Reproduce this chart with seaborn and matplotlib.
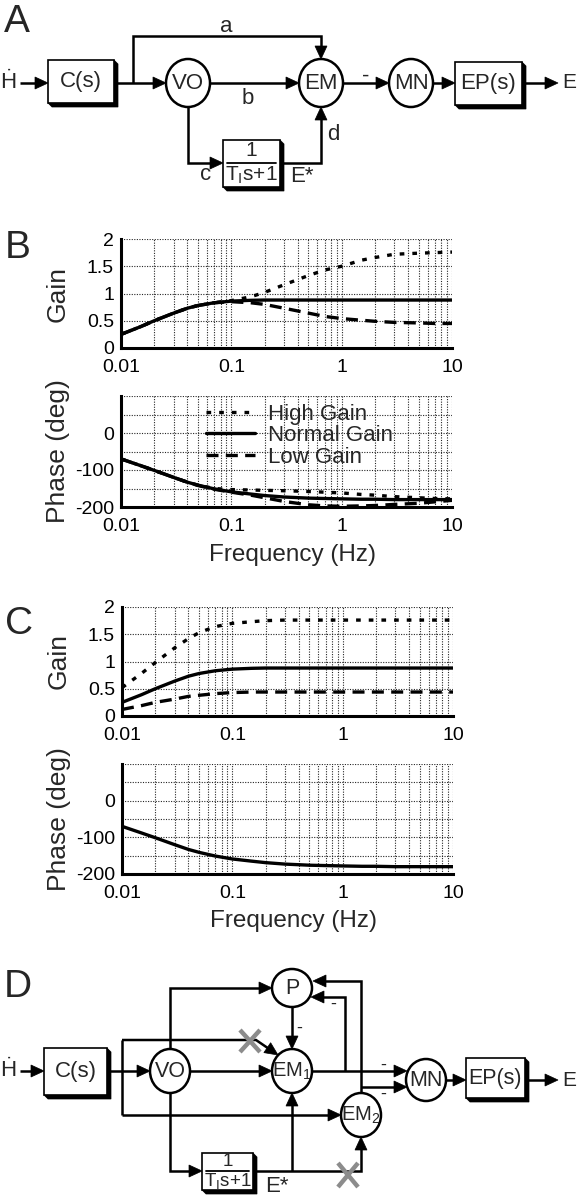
import numpy as np
import pandas as pd
import matplotlib
matplotlib.use("Agg")
import matplotlib.pyplot as plt
import seaborn as sns
from matplotlib.patches import Ellipse, Rectangle, Polygon
from matplotlib.ticker import LogLocator, NullFormatter, FixedLocator

# ---------------- data ----------------
conditions = ["High Gain", "Normal Gain", "Low Gain"]
freq = [0.01, 0.015, 0.02, 0.03, 0.04, 0.05, 0.07, 0.1, 0.15, 0.2, 0.3,
        0.5, 0.7, 1, 1.5, 2, 3, 5, 7, 10]

# Panel B
b_gain_high = [0.25, 0.39, 0.50, 0.64, 0.73, 0.78, 0.83, 0.87, 0.94, 1.02, 1.16,
               1.33, 1.43, 1.50, 1.61, 1.66, 1.72, 1.74, 1.75, 1.76]
b_gain_normal = [0.25, 0.39, 0.50, 0.64, 0.73, 0.78, 0.83, 0.86, 0.875, 0.88, 0.88,
                 0.88, 0.88, 0.88, 0.88, 0.88, 0.88, 0.88, 0.88, 0.88]
b_gain_low = [0.25, 0.39, 0.50, 0.64, 0.73, 0.78, 0.83, 0.85, 0.83, 0.80, 0.73,
              0.64, 0.58, 0.54, 0.51, 0.49, 0.47, 0.46, 0.45, 0.45]
b_phase_high = [-70, -88, -101, -120, -133, -141, -150, -153, -154, -155, -156,
                -158, -160, -162, -166, -168, -172, -175, -177, -178]
b_phase_normal = [-70, -88, -101, -120, -133, -141, -151, -159, -165, -169, -173,
                  -176, -177, -178, -179, -179, -180, -180, -180, -180]
b_phase_low = [-70, -88, -101, -120, -133, -142, -152, -160, -168, -175, -185,
               -194, -197, -198, -197, -196, -193, -190, -186, -182]

# Panel C
c_gain_high = [0.52, 0.78, 0.98, 1.25, 1.42, 1.53, 1.64, 1.70, 1.73, 1.75, 1.76,
               1.76, 1.76, 1.76, 1.76, 1.76, 1.76, 1.76, 1.76, 1.76]
c_gain_normal = [0.25, 0.39, 0.50, 0.64, 0.73, 0.78, 0.83, 0.86, 0.875, 0.88, 0.88,
                 0.88, 0.88, 0.88, 0.88, 0.88, 0.88, 0.88, 0.88, 0.88]
c_gain_low = [0.12, 0.19, 0.25, 0.31, 0.36, 0.38, 0.41, 0.43, 0.44, 0.44, 0.44,
              0.44, 0.44, 0.44, 0.44, 0.44, 0.44, 0.44, 0.44, 0.44]
c_phase_normal = [-70, -88, -101, -120, -133, -141, -151, -159, -165, -169, -173,
                  -176, -177, -178, -179, -179, -180, -180, -180, -180]

x_ticks = [0.01, 0.1, 1, 10]
x_ticklabels = ["0.01", "0.1", "1", "10"]
gain_ticks = [0, 0.5, 1, 1.5, 2]
gain_ticklabels = ["0", "0.5", "1", "1.5", "2"]
phase_ticks = [-200, -100, 0]
phase_ticklabels = ["-200", "-100", "0"]
phase_minor = [-150, -50, 50, 100]

# ---------------- style ----------------
sns.set_style("white")
plt.rcParams["font.family"] = ["Liberation Sans", "DejaVu Sans"]
plt.rcParams["mathtext.fontset"] = "custom"
plt.rcParams["mathtext.rm"] = "Liberation Sans"
plt.rcParams["mathtext.it"] = "Liberation Sans:italic"
plt.rcParams["mathtext.bf"] = "Liberation Sans:bold"

W, H = 577, 1199
fig = plt.figure(figsize=(W / 100, H / 100), dpi=100)
fig.patch.set_facecolor("white")

# overlay axes in pixel coordinates for the block diagrams
dg = fig.add_axes([0, 0, 1, 1])
dg.set_xlim(0, W)
dg.set_ylim(H, 0)
dg.axis("off")
dg.patch.set_alpha(0)

LW = 1.8
FS = 16
LETTER = 28


def seg(pts, color="k", lw=LW):
    xs, ys = zip(*pts)
    dg.plot(xs, ys, color=color, lw=lw, solid_joinstyle="miter",
            solid_capstyle="butt", zorder=2)


def arrow(pts, hl=13, hw=12):
    (x0, y0), (x1, y1) = pts[-2], pts[-1]
    d = np.array([x1 - x0, y1 - y0], float)
    d /= np.hypot(*d)
    nrm = np.array([-d[1], d[0]])
    tip = np.array([x1, y1], float)
    base = tip - d * hl
    seg(list(pts[:-1]) + [tuple(base + d * 1.5)])
    dg.add_patch(Polygon([tip, base + nrm * hw / 2, base - nrm * hw / 2],
                         closed=True, fc="k", ec="k", lw=0.5, zorder=3))


def node(cx, cy, rx, ry, label, fs=FS):
    dg.add_patch(Ellipse((cx, cy), 2 * rx, 2 * ry, fc="white", ec="k",
                         lw=LW, zorder=4))
    dg.text(cx, cy + 0.5, label, ha="center", va="center", fontsize=fs, zorder=5)


def box(x0, y0, x1, y1, label=None, s=4, fs=FS):
    dg.add_patch(Polygon([(x1, y0), (x1 + s, y0 + s), (x1 + s, y1 + s),
                          (x0 + s, y1 + s), (x0, y1)], closed=True,
                         fc="k", ec="k", lw=0.5, zorder=3))
    dg.add_patch(Rectangle((x0, y0), x1 - x0, y1 - y0, fc="white", ec="k",
                           lw=1.2, zorder=4))
    if label:
        dg.text((x0 + x1) / 2, (y0 + y1) / 2 + 0.5, label, ha="center",
                va="center", fontsize=fs, zorder=5)


def frac_box(x0, y0, x1, y1, y_one, y_line, y_den, fs):
    box(x0, y0, x1, y1)
    dg.text((x0 + x1) / 2, y_one, "1", ha="center", va="center", fontsize=fs, zorder=5)
    dg.plot([x0 + 4, x1 - 4], [y_line, y_line], color="k", lw=1.3, zorder=5)
    dg.text((x0 + x1) / 2, y_den, r"T$_\mathregular{I}$s+1", ha="center",
            va="center", fontsize=fs, zorder=5)


def cross(cx, cy, hw, hh):
    for sgn in (1, -1):
        dg.plot([cx - hw, cx + hw], [cy - sgn * hh, cy + sgn * hh],
                color="#8c8c8c", lw=3.2, solid_capstyle="butt", zorder=6)


def txt(x, y, s, fs=FS, ha="center", **kw):
    dg.text(x, y, s, ha=ha, va="center", fontsize=fs, zorder=5, **kw)


# ---------------- Panel A ----------------
dg.text(4, 4, "A", fontsize=LETTER, ha="left", va="top")
yA = 83
txt(8, yA - 1, "Ḣ")
arrow([(20, yA), (48, yA)])
box(48, 60, 114, 103, "C(s)")
arrow([(114, yA), (166, yA)])
arrow([(133, yA), (133, 36), (321, 36), (321, 59)])
node(188, yA, 22, 24, "VO")
arrow([(210, yA), (299, yA)])
node(321, yA, 22, 24, "EM")
arrow([(188, 107), (188, 163), (223, 163)])
frac_box(223, 140, 280, 187, 151, 163, 175, 15)
arrow([(280, 163), (321, 163), (321, 107)])
arrow([(343, yA), (389, yA)])
node(411, yA, 22, 24, "MN")
arrow([(433, yA), (455, yA)])
box(455, 62, 522, 105, "EP(s)")
arrow([(522, yA), (558, yA)])
txt(562, yA, "E", ha="left", fs=15)
txt(226, 27, "a")
txt(248, 98, "b")
txt(206, 175, "c")
txt(333, 135, "d")
txt(302, 176, "E*")
txt(366, 76, "-")

# ---------------- Panel D ----------------
dg.text(4, 969, "D", fontsize=LETTER, ha="left", va="top")
yD = 1071
txt(8, yD - 1, "Ḣ")
arrow([(20, yD), (44, yD)])
box(44, 1048, 107, 1095, "C(s)")
arrow([(107, yD), (150, yD)])
seg([(122, 1040), (122, 1115)])
arrow([(122, 1040), (256, 1040), (278, 1055)])
arrow([(122, 1115), (341, 1115)])
arrow([(170, 1049), (170, 988), (272, 988)])
arrow([(190, yD), (272, yD)])
arrow([(292, 1007), (292, 1049)])
txt(299, 1028, "-", fs=13)
arrow([(312, yD), (407, yD)])
arrow([(345, yD), (345, 997), (311, 997)])
txt(333, 1004, "-", fs=13)
arrow([(361, 1093), (361, 981), (313, 981)])
arrow([(361, 1087), (407, 1087)])
txt(383, 1065, "-", fs=13)
txt(383, 1094, "-", fs=13)
arrow([(170, 1093), (170, 1171), (202, 1171)])
frac_box(202, 1153, 253, 1190, 1161, 1171, 1181, 13.5)
arrow([(292, 1171), (292, 1093)])
arrow([(253, 1171), (361, 1171), (361, 1137)])
node(170, yD, 20, 22, "VO", fs=15.5)
node(292, 988, 20, 19, "P", fs=15.5)
node(292, yD, 20, 22, r"EM$_\mathregular{1}$", fs=14.5)
node(361, 1115, 20, 22, r"EM$_\mathregular{2}$", fs=14.5)
node(426, 1080, 20, 21, "MN", fs=15.5)
arrow([(446, 1080), (466, 1080)])
box(466, 1058, 525, 1098, "EP(s)", fs=15.5)
arrow([(525, 1080), (558, 1080)])
txt(562, 1080, "E", ha="left", fs=15)
txt(277, 1186, "E*")
cross(250, 1041, 10, 11)
cross(348, 1175, 10, 12)

# ---------------- Bode plots ----------------
dash_map = {"High Gain": (1.4, 2.4), "Normal Gain": "", "Low Gain": (3.6, 2.2)}


def px_axes(x0, y0, x1, y1):
    return fig.add_axes([x0 / W, 1 - y1 / H, (x1 - x0) / W, (y1 - y0) / H])


def long_df(vals_by_cond, yname):
    rows = []
    for cond, vals in vals_by_cond.items():
        for f, v in zip(freq, vals):
            rows.append({"Frequency": f, yname: v, "Condition": cond})
    return pd.DataFrame(rows)


def style_bode(ax, kind, xlabel):
    ax.set_xscale("log")
    ax.set_xlim(0.01, 10)
    ax.xaxis.set_major_locator(FixedLocator(x_ticks))
    ax.set_xticklabels(x_ticklabels)
    ax.xaxis.set_minor_locator(LogLocator(base=10, subs=np.arange(2, 10)))
    ax.xaxis.set_minor_formatter(NullFormatter())
    if kind == "gain":
        ax.set_ylim(0, 2)
        ax.set_yticks(gain_ticks)
        ax.set_yticklabels(gain_ticklabels)
        ax.set_ylabel("Gain", fontsize=19)
    else:
        ax.set_ylim(-200, 100)
        ax.set_yticks(phase_ticks)
        ax.set_yticklabels(phase_ticklabels)
        ax.yaxis.set_minor_locator(FixedLocator(phase_minor))
        ax.set_ylabel("Phase (deg)", fontsize=19)
    ax.grid(True, which="both", color="0.15", linestyle=(0, (1, 1.3)), lw=0.8)
    ax.set_axisbelow(True)
    for sp in ("top", "right"):
        ax.spines[sp].set_visible(False)
    for sp in ("left", "bottom"):
        ax.spines[sp].set_color("k")
        ax.spines[sp].set_linewidth(2.2)
        ax.spines[sp].set_zorder(5)
    ax.tick_params(which="both", direction="in", colors="k", labelsize=14,
                   width=1)
    ax.tick_params(axis="x", which="major", length=4, pad=8)
    ax.tick_params(axis="x", which="minor", length=3)
    ax.tick_params(axis="y", which="major", length=0, pad=5)
    ax.tick_params(axis="y", which="minor", length=0)
    ax.yaxis.label.set_va("center")
    ax.yaxis.set_label_coords(-0.19, 0.5)
    if xlabel:
        ax.set_xlabel("Frequency (Hz)", fontsize=17.5)
        ax.xaxis.label.set_va("center")
        ax.xaxis.set_label_coords(0.518, -0.43)
    else:
        ax.set_xlabel("")


def draw(ax, vals_by_cond, yname, legend=False):
    df = long_df(vals_by_cond, yname)
    order = [c for c in conditions if c in vals_by_cond]
    sns.lineplot(data=df, x="Frequency", y=yname, style="Condition",
                 style_order=order, dashes={c: dash_map[c] for c in order},
                 color="k", lw=2.4, errorbar=None, legend=legend, ax=ax)


# Panel B
dg.text(5, 230, "B", fontsize=LETTER, ha="left", va="top")
axBg = px_axes(121, 239, 452, 348)
draw(axBg, {"High Gain": b_gain_high, "Normal Gain": b_gain_normal,
            "Low Gain": b_gain_low}, "Gain")
style_bode(axBg, "gain", False)

axBp = px_axes(121, 396, 452, 507)
draw(axBp, {"High Gain": b_phase_high, "Normal Gain": b_phase_normal,
            "Low Gain": b_phase_low}, "Phase", legend=True)
style_bode(axBp, "phase", True)
sns.move_legend(axBp, "upper left", bbox_to_anchor=(0.257, 0.93),
                frameon=False, title=None, fontsize=16, handlelength=2.2,
                handletextpad=0.6, labelspacing=0.02, borderaxespad=0,
                borderpad=0)

# Panel C
dg.text(5, 606, "C", fontsize=LETTER, ha="left", va="top")
axCg = px_axes(122, 607, 453, 716)
draw(axCg, {"High Gain": c_gain_high, "Normal Gain": c_gain_normal,
            "Low Gain": c_gain_low}, "Gain")
style_bode(axCg, "gain", False)

axCp = px_axes(122, 764, 453, 874)
draw(axCp, {"Normal Gain": c_phase_normal}, "Phase")
style_bode(axCp, "phase", True)

fig.savefig("out.png", dpi=100)
